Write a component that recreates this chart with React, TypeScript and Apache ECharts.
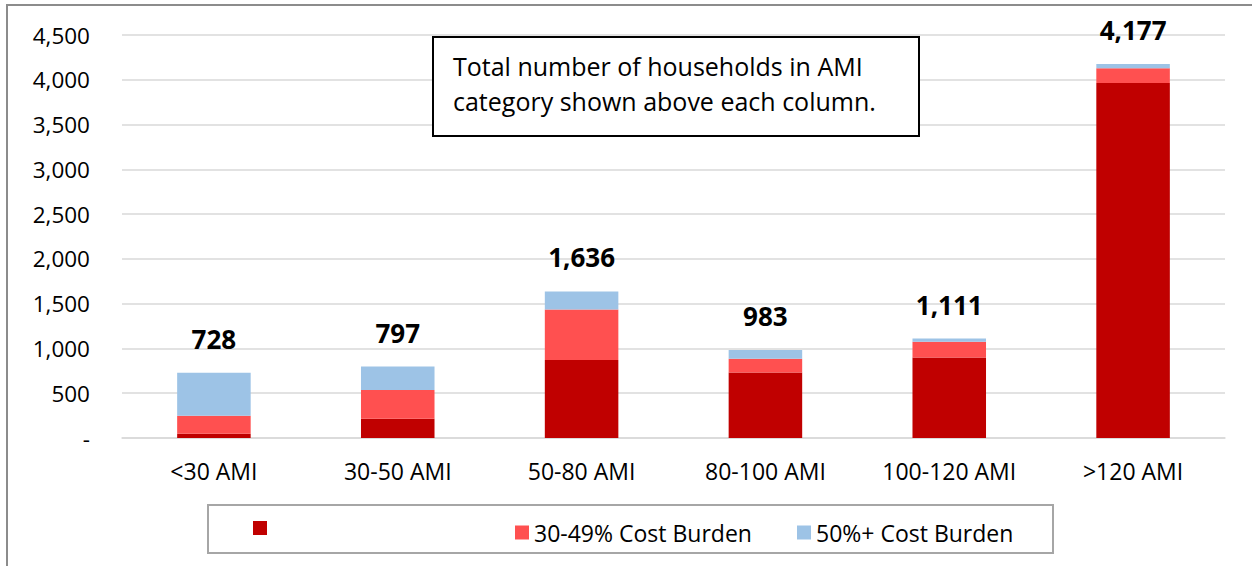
import React, { useEffect, useRef } from "react";
import * as echarts from "echarts";

const categories = ["<30 AMI", "30-50 AMI", "50-80 AMI", "80-100 AMI", "100-120 AMI", ">120 AMI"];
const notBurdened = [48, 216, 872, 730, 898, 3963];
const burden30to49 = [201, 321, 563, 154, 176, 165];
const burden50plus = [479, 260, 201, 99, 37, 49];
const totals = [728, 797, 1636, 983, 1111, 4177];
const seriesNames = ["Not Cost Burdened", "30-49% Cost Burden", "50%+ Cost Burden"];
const yTicks = { min: 0, max: 4500, interval: 500 };
const noteLines = ["Total number of households in AMI", "category shown above each column."];

const FONT = "'Open Sans', Lato, sans-serif";

export default function App() {
  const ref = useRef<HTMLDivElement>(null);
  useEffect(() => {
    if (!ref.current) return;
    const chart = echarts.init(ref.current, undefined, { renderer: "svg" });
    const fmt = (v: number) => (v === 0 ? "-" : v.toLocaleString("en-US"));
    const legendBase = {
      orient: "horizontal",
      itemWidth: 14,
      itemHeight: 14,
      icon: "rect",
      padding: 0,
      top: 521,
      textStyle: { fontFamily: FONT, fontSize: 23, color: "#000" },
    };
    chart.setOption({
      animation: false,
      textStyle: { fontFamily: FONT },
      grid: { left: 122, right: 27, top: 35, bottom: 128, containLabel: false },
      xAxis: {
        type: "category",
        data: categories,
        axisLine: { lineStyle: { color: "#D9D9D9", width: 1.5 } },
        axisTick: { show: false },
        axisLabel: { color: "#000", fontSize: 23, fontFamily: FONT, margin: 21 },
      },
      yAxis: {
        type: "value",
        min: yTicks.min,
        max: yTicks.max,
        interval: yTicks.interval,
        axisLine: { show: false },
        axisTick: { show: false },
        splitLine: { lineStyle: { color: "#D9D9D9", width: 1.5 } },
        axisLabel: { color: "#000", fontSize: 22.5, fontFamily: FONT, margin: 32, formatter: fmt },
      },
      legend: [
        { ...legendBase, left: 253, data: [seriesNames[0]], formatter: () => "" },
        { ...legendBase, left: 515, data: [seriesNames[1]] },
        { ...legendBase, left: 797, data: [seriesNames[2]] },
      ],
      series: [
        {
          name: seriesNames[0],
          type: "bar",
          stack: "t",
          data: notBurdened,
          barWidth: "40%",
          itemStyle: { color: "#C00000" },
        },
        {
          name: seriesNames[1],
          type: "bar",
          stack: "t",
          data: burden30to49,
          itemStyle: { color: "#FF5050" },
        },
        {
          name: seriesNames[2],
          type: "bar",
          stack: "t",
          data: burden50plus,
          itemStyle: { color: "#9DC3E6" },
          label: {
            show: true,
            position: "top",
            distance: 21,
            fontSize: 26,
            fontWeight: "bold",
            color: "#000",
            fontFamily: FONT,
            formatter: (p: any) => totals[p.dataIndex].toLocaleString("en-US"),
          },
        },
      ],
      graphic: [
        {
          type: "rect",
          silent: true,
          shape: { x: 7, y: 5, width: 1260, height: 600 },
          style: { fill: "none", stroke: "#8C8C8C", lineWidth: 2 },
        },
        {
          type: "rect",
          silent: true,
          shape: { x: 208, y: 505, width: 845, height: 48 },
          style: { fill: "none", stroke: "#A6A6A6", lineWidth: 2 },
        },
        {
          type: "rect",
          silent: true,
          z: 100,
          shape: { x: 433, y: 37, width: 486, height: 99 },
          style: { fill: "#fff", stroke: "#000", lineWidth: 2 },
        },
        ...noteLines.map((t, i) => ({
          type: "text",
          silent: true,
          z: 101,
          x: 453,
          y: 66 + i * 35,
          style: {
            text: t,
            fill: "#000",
            fontSize: 25,
            fontFamily: FONT,
            verticalAlign: "middle",
          },
        })),
      ],
    });
    return () => chart.dispose();
  }, []);
  return (
    <div style={{ position: "absolute", left: 0, top: 0, width: 1252, height: 566, background: "#fff" }}>
      <div ref={ref} style={{ width: 1252, height: 566 }} />
    </div>
  );
}
